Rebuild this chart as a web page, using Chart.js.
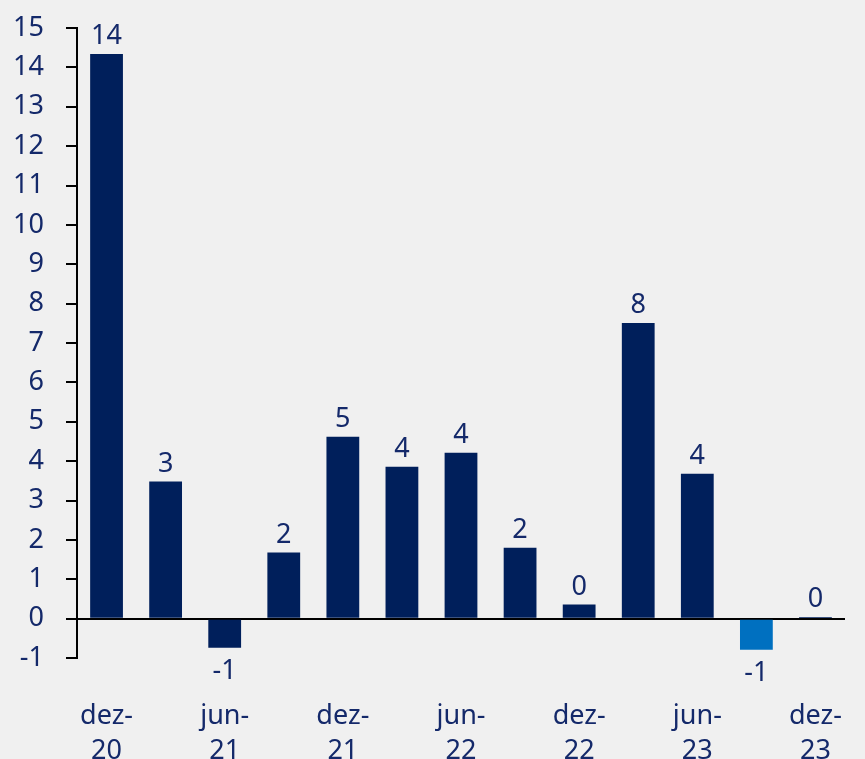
<!DOCTYPE html>
<html>
<head>
<meta charset="utf-8">
<script src="https://cdn.jsdelivr.net/npm/chart.js@4/dist/chart.umd.min.js"></script>
<style>
  html, body { margin: 0; padding: 0; background: #f0f0f0; }
  #wrap { width: 865px; height: 759px; position: relative; }
</style>
</head>
<body>
<div id="wrap"><canvas id="chart"></canvas></div>
<script>
// Data
const categories = ['dez-20', 'mar-21', 'jun-21', 'set-21', 'dez-21', 'mar-22', 'jun-22',
  'set-22', 'dez-22', 'mar-23', 'jun-23', 'set-23', 'dez-23']
const values = [14.34, 3.48, -0.74, 1.68, 4.62, 3.86, 4.21, 1.80, 0.36, 7.51, 3.68, -0.79, 0.04]
const yTicks = [-1, 0, 1, 2, 3, 4, 5, 6, 7, 8, 9, 10, 11, 12, 13, 14, 15]

const navy = '#001f5b'
const lightBlue = '#0070c0'
const textColor = '#14296a'
const fontFamily = '"Noto Sans", "Open Sans", sans-serif'

// last partial bar is highlighted
const barColors = values.map((v, i) => (i === 11 ? lightBlue : navy))

const valueLabels = {
  id: 'valueLabels',
  afterDatasetsDraw(chart) {
    const { ctx } = chart
    const meta = chart.getDatasetMeta(0)
    ctx.save()
    ctx.font = '27px ' + fontFamily
    ctx.fillStyle = textColor
    ctx.textAlign = 'center'
    meta.data.forEach((bar, i) => {
      const v = values[i]
      const text = String(Math.round(v))
      if (v >= 0) {
        ctx.textBaseline = 'bottom'
        ctx.fillText(text, bar.x, bar.y - 4)
      } else {
        ctx.textBaseline = 'top'
        ctx.fillText(text, bar.x, bar.y + 10)
      }
    })
    ctx.restore()
  },
}

new Chart(document.getElementById('chart'), {
  type: 'bar',
  data: {
    labels: categories,
    datasets: [
      {
        data: values,
        backgroundColor: barColors,
        categoryPercentage: 1,
        barPercentage: 0.555,
      },
    ],
  },
  options: {
    responsive: true,
    maintainAspectRatio: false,
    animation: false,
    layout: { padding: { top: 28, right: 20, left: 0, bottom: 0 } },
    plugins: {
      legend: { display: false },
      tooltip: { enabled: false },
    },
    scales: {
      x: {
        grid: { display: false },
        border: { display: false },
        ticks: {
          autoSkip: false,
          maxRotation: 0,
          color: textColor,
          font: { family: fontFamily, size: 27, lineHeight: 1.3 },
          padding: 33,
          callback: function (val, index) {
            if (index % 2 !== 0) return ''
            const parts = categories[index].split('-')
            return [parts[0] + '-', parts[1]]
          },
        },
        afterFit(scale) {
          scale.height = 101
          scale.paddingLeft = 0
          scale.paddingRight = 0
        },
      },
      y: {
        min: -1,
        max: 15,
        afterBuildTicks(scale) {
          scale.ticks = yTicks.map((v) => ({ value: v }))
        },
        grid: {
          drawOnChartArea: true,
          color: (c) => (c.tick && c.tick.value === 0 ? '#000' : 'rgba(0,0,0,0)'),
          lineWidth: 2,
          tickColor: '#000',
          tickLength: 11,
        },
        border: { display: true, color: '#000', width: 2 },
        ticks: {
          color: textColor,
          font: { family: fontFamily, size: 27 },
          padding: 22,
        },
        afterFit(scale) {
          scale.width = 77
          scale.paddingTop = 0
          scale.paddingBottom = 0
        },
      },
    },
  },
  plugins: [valueLabels],
})
</script>
</body>
</html>
